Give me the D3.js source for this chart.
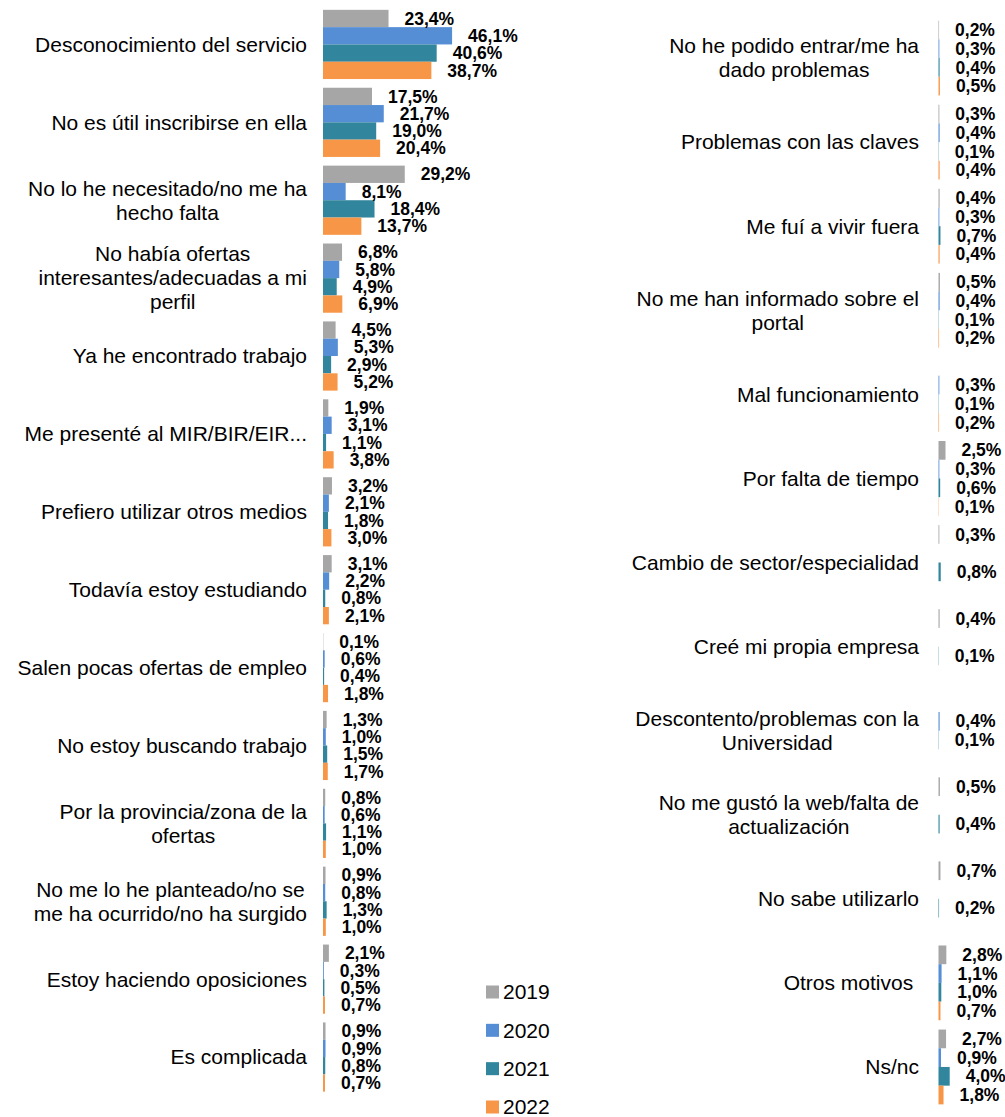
<!DOCTYPE html>
<html>
<head>
<meta charset="utf-8">
<script src="https://cdn.jsdelivr.net/npm/d3@7"></script>
<style>
  body { margin: 0; background: #fff; }
  text { font-family: "Liberation Sans", Arial, sans-serif; fill: #000; }
</style>
</head>
<body>
<svg id="chart" width="1005" height="1117"></svg>
<script>
// Survey years and their bar colours
const years = ["2019", "2020", "2021", "2022"];
const yearColors = ["#A6A6A6", "#558ED5", "#31859C", "#F79646"];

// Left block: main reasons (line breaks mark wrapped labels)
const leftCategories = [
  "Desconocimiento del servicio",
  "No es útil inscribirse en ella",
  "No lo he necesitado/no me ha\nhecho falta",
  "No había ofertas\ninteresantes/adecuadas a mi\nperfil",
  "Ya he encontrado trabajo",
  "Me presenté al MIR/BIR/EIR...",
  "Prefiero utilizar otros medios",
  "Todavía estoy estudiando",
  "Salen pocas ofertas de empleo",
  "No estoy buscando trabajo",
  "Por la provincia/zona de la\nofertas",
  "No me lo he planteado/no se\nme ha ocurrido/no ha surgido",
  "Estoy haciendo oposiciones",
  "Es complicada"
];
const left2019 = [23.4, 17.5, 29.2, 6.8, 4.5, 1.9, 3.2, 3.1, 0.1, 1.3, 0.8, 0.9, 2.1, 0.9];
const left2020 = [46.1, 21.7, 8.1, 5.8, 5.3, 3.1, 2.1, 2.2, 0.6, 1.0, 0.6, 0.8, 0.3, 0.9];
const left2021 = [40.6, 19.0, 18.4, 4.9, 2.9, 1.1, 1.8, 0.8, 0.4, 1.5, 1.1, 1.3, 0.5, 0.8];
const left2022 = [38.7, 20.4, 13.7, 6.9, 5.2, 3.8, 3.0, 2.1, 1.8, 1.7, 1.0, 1.0, 0.7, 0.7];

// Right block: minor reasons (null = no answer that year)
const rightCategories = [
  "No he podido entrar/me ha\ndado problemas",
  "Problemas con las claves",
  "Me fuí a vivir fuera",
  "No me han informado sobre el\nportal",
  "Mal funcionamiento",
  "Por falta de tiempo",
  "Cambio de sector/especialidad",
  "Creé mi propia empresa",
  "Descontento/problemas con la\nUniversidad",
  "No me gustó la web/falta de\nactualización",
  "No sabe utilizarlo",
  "Otros motivos\u00A0",
  "Ns/nc"
];
const right2019 = [0.2, 0.3, 0.4, 0.5, null, 2.5, 0.3, 0.4, null, 0.5, 0.7, 2.8, 2.7];
const right2020 = [0.3, 0.4, 0.3, 0.4, 0.3, 0.3, null, null, 0.4, null, null, 1.1, 0.9];
const right2021 = [0.4, 0.1, 0.7, 0.1, 0.1, 0.6, 0.8, 0.1, 0.1, 0.4, 0.2, 1.0, 4.0];
const right2022 = [0.5, 0.4, 0.4, 0.2, 0.2, 0.1, null, null, null, null, null, 0.7, 1.8];

const svg = d3.select("#chart");
svg.append("rect").attr("width", 1005).attr("height", 1117).attr("fill", "#fff");

const fmt = v => d3.format(".1f")(v).replace(".", ",") + "%";

function drawPanel(opts) {
  const { categories, series, x0, yRange, barH, labelRight } = opts;
  const g = svg.append("g");

  const y = d3.scaleBand().domain(d3.range(categories.length)).range(yRange).padding(0);
  const step = y.bandwidth();
  const inner = d3.scaleBand().domain(years)
    .range([(step - barH * years.length) / 2, (step + barH * years.length) / 2]);
  const x = d3.scaleLinear().domain([0, 1]).range([x0, x0 + 2.8]);

  // flatten rows
  const rows = [];
  categories.forEach((c, i) => {
    years.forEach((yr, k) => {
      const v = series[k][i];
      if (v !== null && v !== undefined) rows.push({ i, yr, k, v });
    });
  });

  g.selectAll("rect.bar").data(rows).join("rect")
    .attr("class", "bar")
    .attr("x", x(0))
    .attr("y", d => y(d.i) + inner(d.yr))
    .attr("width", d => x(d.v) - x(0))
    .attr("height", inner.bandwidth())
    .attr("fill", d => yearColors[d.k]);

  g.selectAll("text.val").data(rows).join("text")
    .attr("class", "val")
    .attr("x", d => x(d.v) + 16)
    .attr("y", d => y(d.i) + inner(d.yr) + inner.bandwidth() / 2)
    .attr("dy", "0.35em")
    .style("font-size", "17.5px")
    .style("font-weight", "bold")
    .text(d => fmt(d.v));

  // category labels: lines centred within a right-aligned block
  const lineH = 24;
  categories.forEach((c, i) => {
    const lines = c.split("\n");
    const cy = y(i) + step / 2;
    const t = g.append("text").style("font-size", "21px");
    const spans = lines.map((ln, j) =>
      t.append("tspan").attr("y", cy + (j - (lines.length - 1) / 2) * lineH)
        .attr("dy", "0.35em").text(ln));
    const widths = spans.map(s => s.node().getComputedTextLength());
    const w = d3.max(widths);
    spans.forEach(s => s.attr("x", labelRight - w / 2).attr("text-anchor", "middle"));
  });
}

drawPanel({
  categories: leftCategories,
  series: [left2019, left2020, left2021, left2022],
  x0: 323, yRange: [5.5, 1096], barH: 17.3, labelRight: 307
});

drawPanel({
  categories: rightCategories,
  series: [right2019, right2020, right2021, right2022],
  x0: 938.5, yRange: [16, 1109], barH: 18.7, labelRight: 919
});

// Legend
const legend = svg.append("g");
const ly = d3.scalePoint().domain(years).range([992, 1107]);
years.forEach((yr, k) => {
  legend.append("rect").attr("x", 486).attr("y", ly(yr) - 6.5)
    .attr("width", 13).attr("height", 13).attr("fill", yearColors[k]);
  legend.append("text").attr("x", 503).attr("y", ly(yr)).attr("dy", "0.35em")
    .style("font-size", "21px").text(yr);
});
</script>
</body>
</html>
